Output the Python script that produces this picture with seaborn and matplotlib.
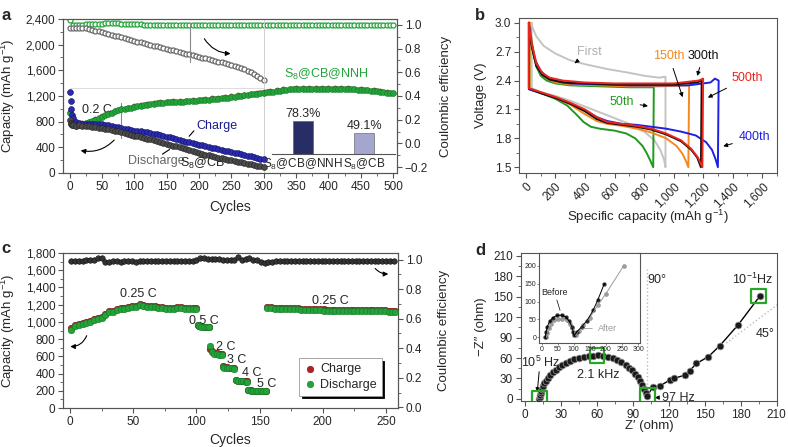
import seaborn as sns
import matplotlib.pyplot as plt
from matplotlib.ticker import MultipleLocator, FuncFormatter

sns.set_theme(style='ticks')
plt.rcParams['font.family'] = ['Liberation Sans', 'DejaVu Sans']
plt.rcParams['mathtext.default'] = 'regular'
plt.rcParams['axes.linewidth'] = 0.8
plt.rcParams['axes.edgecolor'] = '#555555'

# ---------------- данные панели a ----------------
nnh_cycles = [1] + list(range(5, 501, 5))
nnh_discharge = [930, 760, 735, 750, 765, 775, 790, 805, 825, 850, 875, 900, 920, 940, 960, 975, 990, 1000, 1010, 1020, 1030,
                 1040, 1048, 1055, 1062, 1070, 1078, 1085, 1090, 1095, 1100, 1103, 1106, 1108, 1110, 1112, 1115, 1118, 1122, 1126, 1130,
                 1135, 1140, 1145, 1150, 1155, 1160, 1165, 1170, 1175, 1182, 1188, 1195, 1202, 1210, 1218, 1225, 1232, 1238, 1242, 1248,
                 1255, 1262, 1270, 1278, 1285, 1292, 1298, 1302, 1305, 1308, 1310, 1311, 1312, 1312, 1313, 1313, 1314, 1315, 1316, 1316,
                 1316, 1315, 1314, 1313, 1311, 1309, 1306, 1303, 1300, 1296, 1292, 1288, 1283, 1278, 1272, 1266, 1260, 1253, 1246, 1240]
nnh_ce = [1.040, 1.000, 1.000, 1.002, 1.003, 1.004, 1.005, 1.006, 1.008, 1.009, 1.010, 1.012, 1.012, 1.013, 1.012, 1.012, 1.011, 1.010, 1.008, 1.006, 1.005,
          1.004, 1.004, 1.003, 1.003, 1.003, 1.002, 1.002, 1.002, 1.002, 1.001, 1.001, 1.001, 1.001, 1.001, 1.000, 1.000, 1.000, 1.000, 1.000, 1.000,
          1.000, 1.000, 1.000, 1.000, 1.000, 1.000, 1.000, 1.000, 1.000, 1.000, 1.000, 1.000, 1.000, 1.000, 1.000, 1.000, 1.000, 1.000, 1.000, 1.000,
          1.000, 1.000, 0.999, 0.999, 0.999, 0.998, 0.998, 0.998, 0.997, 0.997, 0.997, 0.996, 0.996, 0.996, 0.996, 0.996, 0.997, 0.998, 0.999, 1.000,
          1.000, 1.000, 1.000, 1.000, 1.000, 1.000, 1.000, 1.000, 1.000, 1.000, 1.000, 1.000, 1.000, 1.000, 1.000, 1.000, 1.000, 1.000, 1.000, 1.000]
nnh_charge_cycles = [1] + list(range(10, 501, 10))
nnh_charge = [950, 745, 772, 798, 834, 884, 928, 968, 998, 1018, 1038,
              1058, 1072, 1088, 1100, 1110, 1116, 1120, 1125, 1132, 1140,
              1152, 1162, 1172, 1182, 1195, 1208, 1222, 1236, 1250, 1260,
              1276, 1292, 1306, 1316, 1322, 1325, 1326, 1327, 1328, 1329,
              1328, 1326, 1322, 1316, 1309, 1300, 1290, 1278, 1264, 1250]

cb_cycles = [1, 2, 3, 4, 5] + list(range(10, 301, 5))
cb_charge = [1260, 1120, 1000, 900, 850,
             790, 775, 770, 768, 766, 768, 770, 768, 762,
             752, 742, 732, 722, 712, 702, 692, 682, 672, 662,
             655, 648, 640, 632, 622, 612, 602, 592, 580, 568,
             556, 544, 530, 516, 502, 490, 478, 466, 454, 442,
             430, 418, 406, 395, 384, 372, 360, 349, 338, 327,
             316, 305, 293, 281, 269, 257, 245, 233, 222, 212]
cb_discharge = [820, 780, 760, 750, 745,
                740, 742, 740, 736, 730, 724, 716, 708, 700,
                690, 680, 670, 660, 648, 636, 622, 608, 595, 582,
                570, 558, 546, 534, 522, 510, 498, 486, 472, 458,
                443, 428, 413, 398, 383, 368, 354, 340, 327, 314,
                301, 288, 276, 264, 252, 240, 228, 217, 206, 196,
                186, 176, 166, 156, 146, 136, 126, 116, 107, 98]
cb_ce_cycles = [1] + list(range(5, 301, 5))
cb_ce = [0.970,
         0.974, 0.977, 0.978, 0.976, 0.973, 0.966, 0.959, 0.952, 0.945, 0.938,
         0.931, 0.924, 0.917, 0.910, 0.903, 0.896, 0.889, 0.882, 0.875, 0.867,
         0.860, 0.853, 0.846, 0.840, 0.833, 0.826, 0.819, 0.812, 0.806, 0.799,
         0.792, 0.785, 0.778, 0.772, 0.765, 0.758, 0.751, 0.744, 0.738, 0.731,
         0.724, 0.717, 0.710, 0.704, 0.697, 0.690, 0.683, 0.676, 0.670, 0.663,
         0.654, 0.645, 0.635, 0.624, 0.612, 0.600, 0.586, 0.571, 0.553, 0.535]

retention_names = ['S$_8$@CB@NNH', 'S$_8$@CB']
retention_values = [78.3, 49.1]

# ---------------- данные панели b ----------------
b_first_cap = [38, 40, 100, 200, 300, 400, 500, 600, 700, 800, 870, 910, 935, 945,
               945, 900, 800, 700, 550, 400, 300, 200, 120, 70, 45, 38]
b_first_v = [3.0, 2.32, 2.28, 2.24, 2.19, 2.13, 2.07, 2.01, 1.95, 1.87, 1.78, 1.68, 1.58, 1.5,
             2.44, 2.43, 2.45, 2.48, 2.52, 2.57, 2.61, 2.68, 2.76, 2.86, 2.95, 3.0]
b_50_cap = [25, 25, 100, 200, 280, 340, 390, 440, 500, 600, 680, 740, 790, 820, 845, 862,
            866, 700, 500, 300, 200, 140, 100, 70, 50, 35, 25]
b_50_v = [3.0, 2.31, 2.27, 2.21, 2.14, 2.05, 1.97, 1.92, 1.90, 1.88, 1.85, 1.80, 1.72, 1.64, 1.56, 1.5,
          2.33, 2.33, 2.34, 2.35, 2.37, 2.40, 2.45, 2.55, 2.70, 2.85, 3.0]
b_150_cap = [25, 25, 100, 200, 300, 400, 480, 550, 650, 750, 850, 950, 1020, 1060, 1085, 1100,
             1105, 900, 700, 500, 300, 200, 140, 100, 70, 45, 30, 25]
b_150_v = [3.0, 2.31, 2.27, 2.22, 2.15, 2.05, 1.98, 1.95, 1.93, 1.90, 1.86, 1.80, 1.72, 1.64, 1.56, 1.5,
           2.35, 2.34, 2.34, 2.35, 2.36, 2.38, 2.42, 2.48, 2.58, 2.75, 2.90, 3.0]
b_400_cap = [20, 20, 100, 200, 300, 400, 480, 550, 650, 750, 850, 950, 1050, 1150, 1220, 1260, 1285, 1300,
             1305, 1280, 1250, 1100, 900, 700, 500, 300, 200, 140, 100, 60, 35, 20]
b_400_v = [3.0, 2.31, 2.27, 2.22, 2.16, 2.09, 2.02, 1.98, 1.95, 1.94, 1.92, 1.90, 1.87, 1.83, 1.76, 1.68, 1.58, 1.5,
           2.40, 2.42, 2.38, 2.35, 2.35, 2.35, 2.36, 2.37, 2.40, 2.44, 2.50, 2.62, 2.80, 3.0]
b_300_cap = [20, 20, 100, 200, 300, 400, 480, 550, 650, 750, 850, 950, 1050, 1120, 1160, 1185,
             1190, 1160, 1000, 800, 600, 400, 250, 160, 110, 70, 40, 25, 20]
b_300_v = [3.0, 2.32, 2.27, 2.22, 2.16, 2.08, 2.00, 1.96, 1.94, 1.92, 1.89, 1.84, 1.77, 1.68, 1.60, 1.5,
           2.40, 2.38, 2.36, 2.36, 2.36, 2.37, 2.38, 2.41, 2.46, 2.55, 2.75, 2.90, 3.0]
b_500_cap = [20, 20, 100, 200, 300, 400, 480, 550, 650, 750, 850, 950, 1050, 1120, 1165, 1195,
             1200, 1170, 1000, 800, 600, 400, 250, 160, 110, 70, 40, 25, 20]
b_500_v = [3.0, 2.32, 2.28, 2.23, 2.17, 2.10, 2.02, 1.97, 1.95, 1.93, 1.90, 1.85, 1.78, 1.69, 1.60, 1.5,
           2.42, 2.40, 2.37, 2.37, 2.37, 2.38, 2.40, 2.43, 2.48, 2.58, 2.78, 2.92, 3.0]

# ---------------- данные панели c ----------------
c_cycles = (list(range(1, 101, 3)) + [101, 102, 104, 106, 108, 110] + [111, 112, 114, 116, 118, 120]
            + [121, 122, 124, 126, 128, 130] + [131, 133, 135, 137, 139, 140]
            + [141, 143, 145, 147, 149, 151, 153, 155] + list(range(156, 256, 3)) + [257])
c_discharge = [911, 955, 965, 975, 985, 1000, 1020, 1035, 1050, 1085, 1110, 1120, 1135, 1148, 1155, 1162, 1170,
               1178, 1195, 1185, 1178, 1172, 1168, 1165, 1160, 1155, 1148, 1152, 1160, 1158, 1155, 1152, 1150, 1148,
               960, 950, 940, 938, 936, 935,
               720, 650, 630, 625, 620, 618,
               480, 470, 465, 462, 460, 458,
               320, 312, 310, 308, 307, 306,
               205, 200, 198, 198, 197, 197, 196, 196,
               1162, 1158, 1155, 1152, 1150, 1150, 1148, 1146, 1144, 1142, 1140, 1140, 1138, 1136, 1134, 1132, 1130,
               1130, 1128, 1128, 1126, 1126, 1125, 1125, 1124, 1124, 1123, 1123, 1122, 1122, 1121, 1121, 1120, 1120, 1120]
c_charge = [925, 966, 976, 986, 997, 1012, 1032, 1047, 1062, 1096, 1122, 1132, 1147, 1160, 1167, 1174, 1182,
            1190, 1207, 1198, 1190, 1184, 1180, 1177, 1172, 1167, 1160, 1164, 1172, 1170, 1167, 1164, 1162, 1160,
            968, 958, 948, 946, 944, 943,
            690, 662, 640, 634, 629, 627,
            486, 478, 472, 469, 467, 465,
            326, 318, 315, 313, 312, 311,
            210, 205, 203, 202, 201, 201, 200, 200,
            1174, 1170, 1167, 1164, 1162, 1162, 1160, 1158, 1156, 1154, 1152, 1152, 1150, 1148, 1146, 1144, 1142,
            1142, 1140, 1140, 1138, 1138, 1137, 1137, 1136, 1136, 1135, 1135, 1134, 1134, 1133, 1133, 1132, 1132, 1132]
c_ce_cycles = list(range(1, 258, 3))
c_ce = [0.993, 0.994, 0.993, 0.994, 0.995, 0.996, 0.998,
        1.008, 1.012, 0.982, 0.986,
        0.988, 0.990, 0.987, 0.989, 0.990, 0.988, 0.986, 0.990, 0.989, 0.988, 0.990, 0.991, 0.989, 0.988, 0.990,
        0.989, 0.991, 0.990, 0.989, 0.990, 0.991, 0.992,
        0.998, 1.010, 1.008, 1.006, 1.004, 1.003, 1.001, 1.000, 1.000, 0.999, 0.998, 1.018, 1.000, 1.004, 1.012,
        1.000, 0.995,
        0.982, 0.978, 0.984, 0.986, 0.988, 0.989, 0.990, 0.990, 0.989, 0.990, 0.990, 0.991, 0.990, 0.989, 0.990,
        0.990, 0.991, 0.990, 0.990, 0.989, 0.990, 0.991, 0.990, 0.990, 0.990, 0.989, 0.990, 0.990, 0.991, 0.990,
        0.990, 0.989, 0.990, 0.990, 0.990, 0.990]

# ---------------- данные панели d ----------------
d_re = [12, 12.3, 12.6, 13, 13.5, 14, 15, 16, 17.5, 19, 21, 23, 25.5, 28, 31, 34, 37.5, 41, 45, 49,
        53, 57, 61, 65, 69, 73, 77, 80.5, 84, 87, 89.5, 92, 94, 96, 98, 99.5, 101, 102,
        107, 112.5, 121, 124, 133.5, 137.5, 143, 153, 162.5, 178, 196]
d_im = [0.5, 3, 6, 9, 12, 15, 19, 23, 27, 31, 35, 39, 43, 46.5, 50, 53, 55.5, 58, 60, 61.5,
        62.5, 63.5, 64, 63.5, 62, 60, 57, 54, 50, 46, 42, 37, 32, 27, 21, 15, 9, 5,
        18, 19, 28, 30, 35, 41.5, 52, 62, 78, 109, 151]
d_mark_re = [12, 60, 102, 195]
d_mark_im = [1, 64, 5, 151]
before_re = [12, 14, 18, 25, 35, 48, 62, 75, 86, 94, 99, 102, 110, 125, 140, 160, 175, 195]
before_im = [0, 15, 30, 45, 55, 61, 62, 57, 45, 30, 15, 5, 15, 30, 45, 75, 105, 150]
after_re = [15, 18, 22, 30, 40, 52, 65, 78, 88, 96, 102, 106, 115, 130, 150, 175, 200, 255]
after_im = [0, 12, 25, 38, 47, 52, 52, 47, 38, 26, 13, 5, 18, 35, 55, 90, 122, 200]

GREEN = '#23a33a'
NAVY = '#1c1c8c'
TICK = 8.5
LAB = 9.5

thousands = FuncFormatter(lambda v, p: f'{v:,.0f}')


def style_axis(ax, xmaj, xmin, ymaj, ymin):
    ax.xaxis.set_major_locator(MultipleLocator(xmaj))
    ax.xaxis.set_minor_locator(MultipleLocator(xmin))
    ax.yaxis.set_major_locator(MultipleLocator(ymaj))
    ax.yaxis.set_minor_locator(MultipleLocator(ymin))
    ax.tick_params(which='major', direction='out', length=3.5, width=0.8, labelsize=TICK,
                   color='#555555', top=False, right=False, pad=2)
    ax.tick_params(which='minor', direction='out', length=2, width=0.6, color='#555555',
                   top=False, right=False)


def style_right(axr, fmt):
    axr.yaxis.set_major_locator(MultipleLocator(0.2))
    axr.yaxis.set_minor_locator(MultipleLocator(0.1))
    axr.tick_params(which='major', direction='out', length=3.5, width=0.8, labelsize=TICK, color='#555555', pad=2)
    axr.tick_params(which='minor', direction='out', length=2, width=0.6, color='#555555')
    axr.yaxis.set_major_formatter(FuncFormatter(fmt))


fig = plt.figure(figsize=(7.88, 4.47), dpi=100)

# ================= a =================
ax = fig.add_axes([0.0800, 0.6130, 0.4239, 0.3445])
axr = ax.twinx()
ax.set_zorder(2)
axr.set_zorder(1)
ax.patch.set_visible(False)

ax.plot([300, 300], [0, 2400], color='#cfcfcf', lw=0.7)
ax.plot([0, 300], [1320, 1320], color='#dcdcdc', lw=0.7)
ax.plot([186, 186], [1730, 2340], color='#888888', lw=0.8)
ax.plot([80, 80], [540, 1090], color='#888888', lw=0.8)

sns.scatterplot(x=nnh_charge_cycles, y=nnh_charge, ax=ax, s=14, color='#c0392b', edgecolor='#8b1a1a', linewidth=0.3, zorder=3)
sns.scatterplot(x=nnh_cycles, y=nnh_discharge, ax=ax, s=18, color=GREEN, edgecolor='#137a26', linewidth=0.4, zorder=4)
sns.scatterplot(x=cb_cycles, y=cb_charge, ax=ax, s=18, color='#2b2bb0', edgecolor='#101060', linewidth=0.4, zorder=4)
sns.scatterplot(x=cb_cycles, y=cb_discharge, ax=ax, s=18, color='#4a4a4a', edgecolor='#222222', linewidth=0.4, zorder=4)

sns.scatterplot(x=nnh_cycles, y=nnh_ce, ax=axr, s=13, color='white', edgecolor=GREEN, linewidth=0.9, zorder=3)
sns.scatterplot(x=cb_ce_cycles, y=cb_ce, ax=axr, s=13, color='white', edgecolor='#6a6a6a', linewidth=0.9, zorder=3)

ax.set_xlim(-10, 506)
ax.set_ylim(0, 2400)
axr.set_ylim(-0.25, 1.05)
style_axis(ax, 50, 25, 400, 200)
ax.yaxis.set_major_formatter(thousands)
style_right(axr, lambda v, p: f'{v:.1f}'.replace('-', '\u2212'))
ax.set_ylabel('Capacity (mAh g$^{-1}$)', fontsize=LAB)
ax.yaxis.set_label_coords(-0.138, 0.5)
ax.set_xlabel('Cycles', fontsize=LAB + 0.5)
ax.xaxis.set_label_coords(0.5, -0.175)
axr.set_ylabel('Coulombic efficiency', fontsize=LAB)
axr.yaxis.set_label_coords(1.129, 0.5)

ax.text(42, 980, '0.2 C', fontsize=9, ha='center', va='center')
ax.text(227, 740, 'Charge', fontsize=9, color=NAVY, ha='center', va='center')
ax.text(134, 190, 'Discharge', fontsize=9, color='#666666', ha='center', va='center')
ax.text(206, 145, 'S$_8$@CB', fontsize=9, color='#222222', ha='center', va='center')
ax.text(397, 1530, 'S$_8$@CB@NNH', fontsize=9, color=GREEN, ha='center', va='center')
ax.annotate('', xy=(182, 540), xytext=(195, 690), arrowprops=dict(arrowstyle='-', color='black', lw=0.8))
ax.annotate('', xy=(158, 390), xytext=(140, 270), arrowprops=dict(arrowstyle='-', color='black', lw=0.8))
ax.annotate('', xy=(253, 1860), xytext=(206, 2130),
            arrowprops=dict(arrowstyle='-|>', color='black', lw=0.8, mutation_scale=7,
                            connectionstyle='arc3,rad=0.3'))
ax.annotate('', xy=(13, 360), xytext=(72, 545),
            arrowprops=dict(arrowstyle='-|>', color='black', lw=0.8, mutation_scale=7,
                            connectionstyle='arc3,rad=-0.3'))

# вставка со столбиками
axb = fig.add_axes([0.3452, 0.6555, 0.1561, 0.1208])
axb.set_facecolor('none')
sns.barplot(x=retention_names, y=retention_values, hue=retention_names, palette=['#1e2470', '#9d9fd6'],
            width=0.33, ax=axb, legend=False, edgecolor='#555555', linewidth=0.4)
for i, v in enumerate(retention_values):
    axb.text(i, v + 3, f'{v}%', ha='center', va='bottom', fontsize=9)
axb.set_ylim(0, 128)
axb.set_xlim(-0.5, 1.5)
axb.set_yticks([])
axb.set_ylabel('')
for s in ['left', 'right', 'top']:
    axb.spines[s].set_visible(False)
axb.tick_params(axis='x', length=0, labelsize=8.5, pad=2)

# ================= b =================
ax = fig.add_axes([0.6586, 0.6130, 0.3274, 0.3468])
curves = [(b_first_cap, b_first_v, '#c4c4c4'), (b_50_cap, b_50_v, '#1f9a1f'),
          (b_150_cap, b_150_v, '#f5891f'), (b_400_cap, b_400_v, '#1f1fe6'),
          (b_300_cap, b_300_v, '#111111'), (b_500_cap, b_500_v, '#e8261e')]
for cap, v, col in curves:
    sns.lineplot(x=cap, y=v, sort=False, estimator=None, ax=ax, color=col, lw=1.4)
ax.set_xlim(-47, 1700)
ax.set_ylim(1.44, 3.05)
style_axis(ax, 200, 100, 0.3, 0.15)
ax.xaxis.set_major_formatter(thousands)
ax.yaxis.set_major_formatter(FuncFormatter(lambda v, p: f'{v:.1f}'))
for lbl in ax.get_xticklabels():
    lbl.set_rotation(45)
    lbl.set_ha('right')
    lbl.set_rotation_mode('anchor')
ax.set_ylabel('Voltage (V)', fontsize=LAB)
ax.yaxis.set_label_coords(-0.124, 0.5)
ax.set_xlabel('Specific capacity (mAh g$^{-1}$)', fontsize=LAB)
ax.xaxis.set_label_coords(0.5, -0.226)

arrow = dict(arrowstyle='-|>', color='black', lw=0.7, mutation_scale=6)
ax.annotate('First', xy=(330, 2.58), xytext=(430, 2.70), fontsize=9, color='#b0b0b0', ha='center', va='center', arrowprops=arrow)
ax.annotate('50th', xy=(845, 2.13), xytext=(650, 2.18), fontsize=9, color='#1f9a1f', ha='center', va='center', arrowprops=arrow)
ax.annotate('150th', xy=(1067, 2.20), xytext=(970, 2.65), fontsize=9, color='#f5891f', ha='center', va='center', arrowprops=arrow)
ax.annotate('300th', xy=(1155, 2.42), xytext=(1200, 2.66), fontsize=9, color='#111111', ha='center', va='center', arrowprops=arrow)
ax.annotate('500th', xy=(1215, 2.21), xytext=(1500, 2.43), fontsize=9, color='#e8261e', ha='center', va='center', arrowprops=arrow)
ax.annotate('400th', xy=(1318, 1.71), xytext=(1545, 1.81), fontsize=9, color='#1f1fe6', ha='center', va='center', arrowprops=arrow)

# ================= c =================
ax = fig.add_axes([0.0800, 0.0872, 0.4251, 0.3468])
axr = ax.twinx()
ax.set_zorder(2)
axr.set_zorder(1)
ax.patch.set_visible(False)
sns.scatterplot(x=c_cycles, y=c_charge, ax=ax, s=22, color='#b22222', edgecolor='#6e1010', linewidth=0.4, zorder=3, label='Charge')
sns.scatterplot(x=c_cycles, y=c_discharge, ax=ax, s=22, color=GREEN, edgecolor='#137a26', linewidth=0.4, zorder=4, label='Discharge')
sns.scatterplot(x=c_ce_cycles, y=c_ce, ax=axr, s=16, color='#333333', edgecolor='#111111', linewidth=0.4, zorder=3)
ax.set_xlim(-5.5, 259.5)
ax.set_ylim(0, 1800)
axr.set_ylim(-0.005, 1.045)
style_axis(ax, 50, 25, 200, 100)
ax.yaxis.set_major_formatter(thousands)
style_right(axr, lambda v, p: f'{v:.1f}')
ax.set_ylabel('Capacity (mAh g$^{-1}$)', fontsize=LAB)
ax.yaxis.set_label_coords(-0.138, 0.5)
ax.set_xlabel('Cycles', fontsize=LAB + 0.5)
ax.xaxis.set_label_coords(0.5, -0.161)
axr.set_ylabel('Coulombic efficiency', fontsize=LAB)
axr.yaxis.set_label_coords(1.119, 0.5)
leg = ax.legend(loc='lower right', bbox_to_anchor=(0.97, 0.04), fontsize=9, frameon=True, fancybox=False,
                shadow={'color': 'black', 'alpha': 1.0}, edgecolor='#999999', handletextpad=0.3,
                borderpad=0.4, labelspacing=0.3, handlelength=1.0, markerscale=1.0)
leg.get_frame().set_linewidth(0.6)
for txt, x, y in [('0.25 C', 54, 1325), ('0.5 C', 106, 1010), ('2 C', 123, 714), ('3 C', 132, 560),
                  ('4 C', 144, 405), ('5 C', 156, 282), ('0.25 C', 206, 1247)]:
    ax.text(x, y, txt, fontsize=9, ha='center', va='center')
ax.annotate('', xy=(-2, 715), xytext=(14, 870),
            arrowprops=dict(arrowstyle='-|>', color='black', lw=0.8, mutation_scale=7, connectionstyle='arc3,rad=-0.4'))
ax.annotate('', xy=(254, 1560), xytext=(240, 1645),
            arrowprops=dict(arrowstyle='-|>', color='black', lw=0.8, mutation_scale=7, connectionstyle='arc3,rad=0.3'))

# ================= d =================
ax = fig.add_axes([0.6608, 0.1029, 0.3253, 0.3311])
ax.plot([102, 102], [0, 190], color='#bbbbbb', lw=1.0, ls=':')
ax.plot([168, 212], [82, 140], color='#bbbbbb', lw=1.0, ls=':')
sns.lineplot(x=d_re, y=d_im, sort=False, estimator=None, ax=ax, color='black', lw=1.0)
sns.scatterplot(x=d_re, y=d_im, ax=ax, s=24, color='#1a1a1a', edgecolor='#9a9a9a', linewidth=0.5, zorder=4)
sns.scatterplot(x=d_mark_re, y=d_mark_im, ax=ax, s=110, marker='s', facecolor='none', edgecolor='#2aa52a', linewidth=1.6, zorder=5)
ax.set_xlim(-3.6, 210.3)
ax.set_ylim(-3, 214)
style_axis(ax, 30, 15, 30, 15)
ax.set_xlabel('Z\u2032 (ohm)', fontsize=LAB)
ax.xaxis.set_label_coords(0.5, -0.125)
ax.set_ylabel('\u2212Z\u2033 (ohm)', fontsize=LAB)
ax.yaxis.set_label_coords(-0.131, 0.5)
ax.text(110, 175, '90\u00b0', fontsize=9, ha='center', va='center')
ax.text(200, 95, '45\u00b0', fontsize=9, ha='center', va='center')
ax.text(190, 176, '10$^{-1}$Hz', fontsize=9, ha='center', va='center')
ax.text(13, 53, '10$^5$ Hz', fontsize=9, ha='center', va='center')
ax.text(61, 35, '2.1 kHz', fontsize=9, ha='center', va='center')
ax.annotate('97 Hz', xy=(106, 2), xytext=(114, 2), fontsize=9, ha='left', va='center',
            arrowprops=dict(arrowstyle='-|>', color='black', lw=0.7, mutation_scale=6))
ax.annotate('', xy=(10, 6), xytext=(12, 44), arrowprops=dict(arrowstyle='-|>', color='black', lw=0.7, mutation_scale=6))

axi = fig.add_axes([0.6840, 0.2327, 0.1282, 0.2013])
sns.lineplot(x=after_re, y=after_im, sort=False, estimator=None, ax=axi, color='#9a9a9a', lw=0.7)
sns.scatterplot(x=after_re, y=after_im, ax=axi, s=8, color='#a0a0a0', edgecolor='#777777', linewidth=0.3)
sns.lineplot(x=before_re, y=before_im, sort=False, estimator=None, ax=axi, color='black', lw=0.7)
sns.scatterplot(x=before_re, y=before_im, ax=axi, s=8, color='#222222', edgecolor='#666666', linewidth=0.3)
axi.set_xlim(-8, 306)
axi.set_ylim(-16, 236)
axi.xaxis.set_major_locator(MultipleLocator(50))
axi.yaxis.set_major_locator(MultipleLocator(50))
axi.tick_params(direction='out', length=1.5, width=0.5, labelsize=5, pad=0.5, color='#555555')
axi.text(41, 125, 'Before', fontsize=6.5, ha='center', va='center')
axi.annotate('After', xy=(120, 24), xytext=(206, 25), fontsize=6.5, color='#999999', ha='center', va='center',
             arrowprops=dict(arrowstyle='-', color='#999999', lw=0.6))
axi.annotate('', xy=(60, 68), xytext=(45, 112), arrowprops=dict(arrowstyle='-', color='black', lw=0.5))

# буквы панелей
for letter, x, y in [('a', 0.002, 0.965), ('b', 0.603, 0.965), ('c', 0.002, 0.445), ('d', 0.603, 0.440)]:
    fig.text(x, y, letter, fontsize=12, fontweight='bold', va='center')

fig.savefig('out.png', dpi=100)
